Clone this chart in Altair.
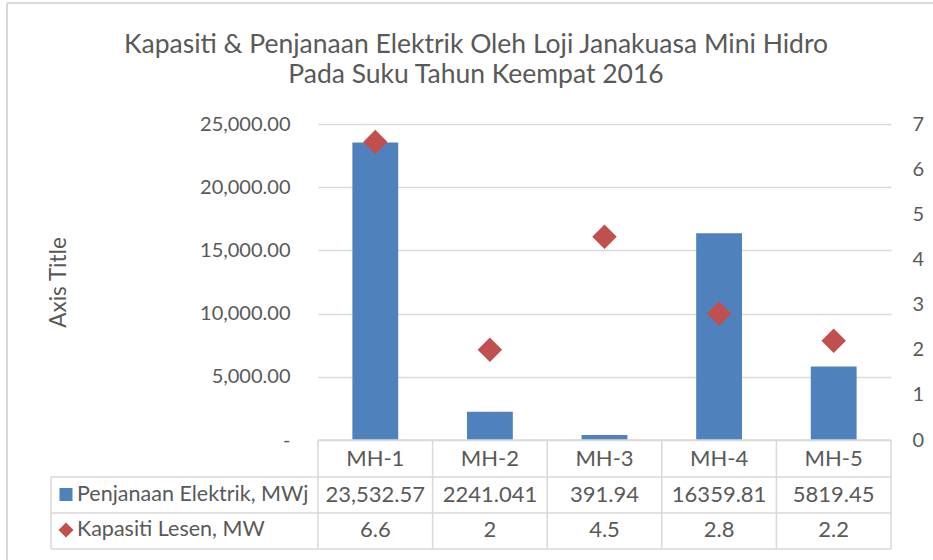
import altair as alt
import pandas as pd

# ---------------- data ----------------
categories = ["MH-1", "MH-2", "MH-3", "MH-4", "MH-5"]
generation = [23532.57, 2241.041, 391.94, 16359.81, 5819.45]
generation_text = ["23,532.57", "2241.041", "391.94", "16359.81", "5819.45"]
capacity = [6.6, 2, 4.5, 2.8, 2.2]
capacity_text = ["6.6", "2", "4.5", "2.8", "2.2"]
series_names = ["Penjanaan Elektrik, MWj", "Kapasiti Lesen, MW"]
left_ticks = [0, 5000, 10000, 15000, 20000, 25000]
right_ticks = [0, 1, 2, 3, 4, 5, 6, 7]
title_lines = ["Kapasiti & Penjanaan Elektrik Oleh Loji Janakuasa Mini Hidro",
               "Pada Suku Tahun Keempat 2016"]
axis_title = "Axis Title"

# ---------------- layout ----------------
FONT = "Lato"
TXT = "#595959"
GRID = "#D9D9D9"
BLUE = "#4F81BD"
RED = "#C0504D"
W, H = 573, 316
PAD_L, PAD_T, PAD_R, PAD_B = 318, 124, 42, 120
ROW_RANGE = [335, 406]          # centres of the data-table rows (px below plot top)
ROW_LINES = [353, 389, 425]     # horizontal table lines
TABLE_LEFT = -267
LABEL_X = -241
KEY_X = -252

df = pd.DataFrame({"cat": categories, "gen": generation, "cap": capacity})
rows = ["header", "gen", "cap"]
tbl = pd.DataFrame(
    [{"cat": c, "row": "header", "txt": c} for c in categories]
    + [{"cat": c, "row": "gen", "txt": t} for c, t in zip(categories, generation_text)]
    + [{"cat": c, "row": "cap", "txt": t} for c, t in zip(categories, capacity_text)]
)
lab = pd.DataFrame({"row": ["gen", "cap"], "txt": series_names})
dummy = pd.DataFrame({"a": [0]})

xscale = alt.Scale(domain=categories, paddingInner=0.6, paddingOuter=0.3)
yrow = alt.Y("row:N", scale=alt.Scale(type="point", domain=rows, range=ROW_RANGE, padding=0), axis=None)

bars = alt.Chart(df).mark_bar(color=BLUE).encode(
    x=alt.X("cat:N", scale=xscale, axis=None),
    y=alt.Y("gen:Q", scale=alt.Scale(domain=[0, 25000], nice=False),
            axis=alt.Axis(values=left_ticks, title=axis_title, grid=True, gridColor=GRID,
                          gridWidth=1.3, domain=False, ticks=False, labelPadding=28,
                          labelExpr="datum.value == 0 ? '-' : format(datum.value, ',.2f')",
                          labelFont=FONT, labelFontSize=20, labelColor=TXT,
                          titleFont=FONT, titleFontSize=22.5, titleColor=TXT,
                          titleFontWeight="normal", titleX=-260, titleY=158,
                          titleAngle=270, titleAlign="center", titleBaseline="middle")),
)

points = alt.Chart(df).mark_point(shape="diamond", filled=True, color=RED, size=600, opacity=1).encode(
    x=alt.X("cat:N", scale=xscale, axis=None),
    y=alt.Y("cap:Q", scale=alt.Scale(domain=[0, 7], nice=False),
            axis=alt.Axis(orient="right", values=right_ticks, title=None, grid=False,
                          domain=False, ticks=False, labelPadding=21, format="d",
                          labelFont=FONT, labelFontSize=20, labelColor=TXT)),
)

table_text = alt.Chart(tbl).mark_text(font=FONT, fontSize=22, color=TXT, baseline="middle").encode(
    x=alt.X("cat:N", scale=xscale, axis=None),
    y=yrow,
    text="txt:N",
)

row_labels = alt.Chart(lab).mark_text(font=FONT, fontSize=21.5, color=TXT, align="left",
                                      baseline="middle").encode(
    x=alt.value(LABEL_X), y=yrow, text="txt:N")

key_sq = alt.Chart(lab[lab.row == "gen"]).mark_point(shape="square", filled=True, color=BLUE,
                                                       size=169, opacity=1).encode(
    x=alt.value(KEY_X), y=yrow)
key_di = alt.Chart(lab[lab.row == "cap"]).mark_point(shape="diamond", filled=True, color=RED,
                                                       size=225, opacity=1).encode(
    x=alt.value(KEY_X), y=yrow)

title_layers = [
    alt.Chart(dummy).mark_text(text=t, font=FONT, fontSize=26.5, color=TXT, align="center",
                               baseline="middle").encode(x=alt.value(158), y=alt.value(yy))
    for t, yy in zip(title_lines, [-79, -49])
]


def rule(x1, x2, y1, y2, color=GRID, w=1.5):
    return alt.Chart(dummy).mark_rule(color=color, strokeWidth=w).encode(
        x=alt.value(x1), x2=alt.value(x2), y=alt.value(y1), y2=alt.value(y2))


step = W / len(categories)
lines = [rule(0, W, H, H)]
lines += [rule(TABLE_LEFT, W, yy, yy) for yy in ROW_LINES]
lines += [rule(TABLE_LEFT, TABLE_LEFT, ROW_LINES[0], ROW_LINES[-1])]
lines += [rule(i * step, i * step, H, ROW_LINES[-1]) for i in range(len(categories) + 1)]
# outer chart border (top and left edges visible in reference)
lines += [rule(7 - PAD_L, 933 - PAD_L, 3 - PAD_T, 3 - PAD_T, w=2),
          rule(7 - PAD_L, 7 - PAD_L, 3 - PAD_T, 560 - PAD_T, w=2)]

chart = alt.layer(
    bars, points, table_text, row_labels, key_sq, key_di, *lines, *title_layers
).resolve_scale(y="independent").properties(
    width=W, height=H,
    autosize=alt.AutoSizeParams(type="none"),
    padding={"left": PAD_L, "top": PAD_T, "right": PAD_R, "bottom": PAD_B},
).configure_view(stroke=None)

chart.save("out.html", embed_options={"renderer": "svg", "actions": False})
